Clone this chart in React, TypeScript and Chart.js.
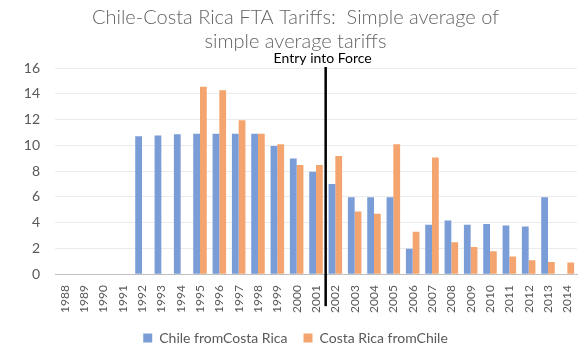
import React, { useEffect, useRef } from "react";
import { Chart, registerables } from "chart.js";

Chart.register(...registerables);

const years = ["1988","1989","1990","1991","1992","1993","1994","1995","1996","1997","1998","1999","2000","2001","2002","2003","2004","2005","2006","2007","2008","2009","2010","2011","2012","2013","2014"];
const chileFromCostaRica = [null,null,null,null,10.7,10.77,10.85,10.9,10.9,10.9,10.9,9.95,8.97,7.95,6.99,5.97,5.97,5.97,1.98,3.84,4.17,3.84,3.9,3.78,3.7,5.97,null];
const costaRicaFromChile = [null,null,null,null,null,null,null,14.55,14.27,11.95,10.9,10.08,8.48,8.48,9.18,4.87,4.68,10.08,3.29,9.05,2.47,2.1,1.77,1.37,1.08,0.95,0.9];
const yTicks = [0,2,4,6,8,10,12,14,16];
const eventLabel = "Entry into Force";
const eventAfterIndex = 13;

const FONT = "Lato, 'Open Sans', sans-serif";
const GRAY = "#595959";

const eventLine = {
  id: "eventLine",
  afterDatasetsDraw(chart: any) {
    const { ctx, chartArea, scales } = chart;
    const xs = scales.x;
    const x = (xs.getPixelForValue(eventAfterIndex) + xs.getPixelForValue(eventAfterIndex + 1)) / 2;
    ctx.save();
    ctx.strokeStyle = "#000";
    ctx.lineWidth = 2.5;
    ctx.beginPath();
    ctx.moveTo(x, chartArea.top - 1);
    ctx.lineTo(x, chartArea.bottom + 32);
    ctx.stroke();
    ctx.fillStyle = "#000";
    ctx.font = "14px " + FONT;
    ctx.textAlign = "center";
    ctx.textBaseline = "middle";
    ctx.fillText(eventLabel, x - 3, chartArea.top - 10);
    ctx.restore();
  },
};

export default function App() {
  const ref = useRef<HTMLCanvasElement>(null);
  useEffect(() => {
    document.body.style.margin = "0";
    const chart = new Chart(ref.current!, {
      type: "bar",
      data: {
        labels: years,
        datasets: [
          { label: "Chile fromCosta Rica", data: chileFromCostaRica, backgroundColor: "rgb(122,156,215)" },
          { label: "Costa Rica fromChile", data: costaRicaFromChile, backgroundColor: "rgb(244,164,110)" },
        ],
      },
      options: {
        animation: false,
        responsive: false,
        maintainAspectRatio: false,
        datasets: { bar: { categoryPercentage: 0.7, barPercentage: 1.0 } },
        layout: { padding: { left: 14, right: 3, top: 0, bottom: -6 } },
        plugins: {
          title: {
            display: true,
            text: ["Chile-Costa Rica FTA Tariffs:  Simple average of", "simple average tariffs"],
            color: "#636363",
            font: { family: FONT, size: 20, weight: "300", lineHeight: 1.2 },
            padding: { top: 6, bottom: 14 },
          },
          legend: {
            position: "bottom",
            labels: { boxWidth: 9, boxHeight: 9, color: GRAY, font: { family: FONT, size: 14 }, padding: 16 },
          },
          tooltip: { enabled: false },
        },
        scales: {
          x: {
            grid: { display: false, drawTicks: false, color: "rgba(0,0,0,0)" },
            border: { color: "#bfbfbf" },
            ticks: { color: GRAY, font: { family: FONT, size: 12 }, minRotation: 90, maxRotation: 90, autoSkip: false, padding: 11 },
            afterFit: (s: any) => { s.height = s.height - 9; s.paddingLeft = 0; s.paddingRight = 0; },
          },
          y: {
            min: 0,
            max: 16,
            afterBuildTicks: (s: any) => { s.ticks = yTicks.map((v) => ({ value: v })); },
            grid: { color: "#ebebeb", drawTicks: false },
            border: { display: false },
            ticks: { color: GRAY, font: { family: FONT, size: 14 }, padding: 15 },
            afterFit: (s: any) => { s.width = 41; },
          },
        },
      },
      plugins: [eventLine],
    });
    return () => chart.destroy();
  }, []);
  return (
    <div style={{ width: 580, height: 349 }}>
      <canvas ref={ref} width={580} height={349} />
    </div>
  );
}
